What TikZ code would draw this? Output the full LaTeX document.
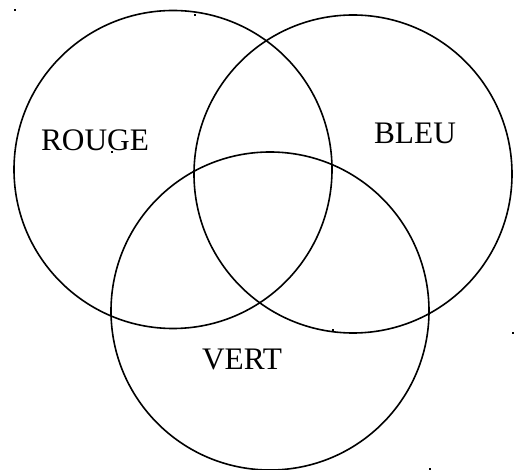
\documentclass[tikz,border=0pt]{standalone}
\usepackage{fontspec}
\setmainfont{Liberation Serif}
\usetikzlibrary{positioning}

\begin{document}
\begin{tikzpicture}[
    x=0.75pt, y=-0.75pt,
    font=\fontsize{23.5}{27}\selectfont,
    vennring/.style={circle, draw=black, line width=1.2pt, minimum size=238.5pt, inner sep=0pt},
    setlabel/.style={inner sep=0pt, anchor=center},
    speck/.style={fill=black},
]

% ===== Frame (pixel grid of the page) =====
\useasboundingbox (0,0) rectangle (525,470);

% ===== Circle centres =====
\def\xR{173} \def\yR{169.5}
\def\xB{353} \def\yB{174}
\def\xV{270} \def\yV{311}

% ===== The three sets =====
\node[vennring] (rouge) at (\xR,\yR) {};
\node[vennring] (bleu)  at (\xB,\yB) {};
\node[vennring] (vert)  at (\xV,\yV) {};

% ===== Labels =====
\node[setlabel] (rougelbl) at (95,140) {ROUGE};
\node[setlabel] (bleulbl)  at (415,133) {BLEU};
\node[setlabel] (vertlbl)  at (242,359) {VERT};

% ===== Stray specks =====
\foreach \px/\py in {15/10, 195/15, 112/152, 333/330, 513/333, 430/469} {
    \fill[speck] (\px-1,\py-1) rectangle (\px+1,\py+1);
}

\end{tikzpicture}
\end{document}
